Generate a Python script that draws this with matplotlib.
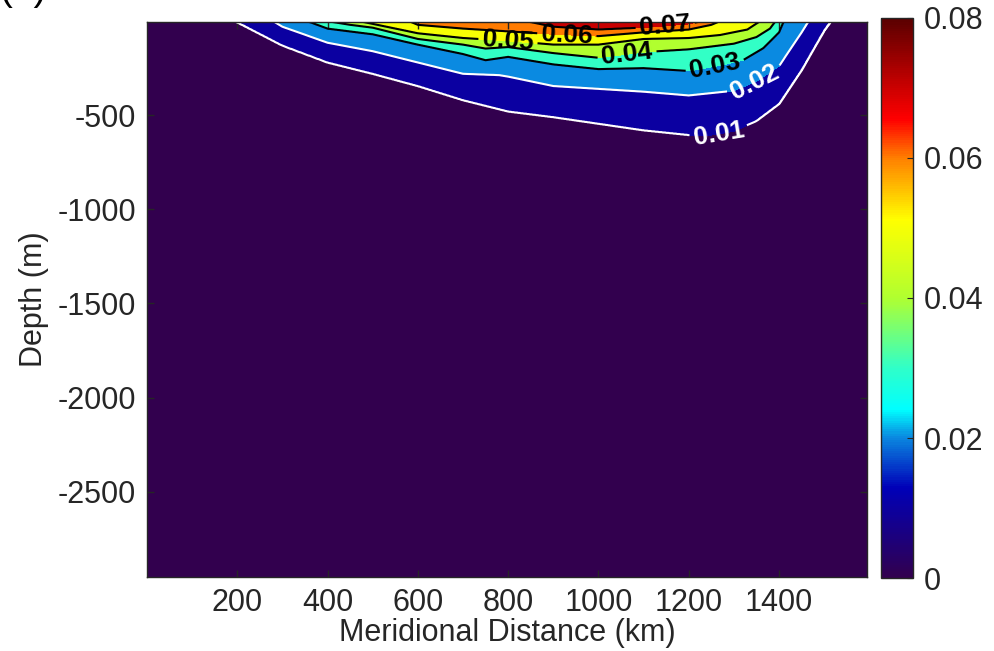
"""Meridional section of a tracer concentration, filled contours with labels."""

import numpy as np
import matplotlib

matplotlib.use("Agg")
from matplotlib import pyplot as plt
from matplotlib.cm import ScalarMappable
from matplotlib.colors import LinearSegmentedColormap, Normalize

# contour traces: distance (km) and depth below surface (m)
c01_x = [195, 300, 400, 500, 600, 700, 800, 900, 1000, 1100, 1200, 1250, 1300, 1350, 1400, 1450, 1500, 1515]
c01_depth = [0, 130, 220, 280, 345, 420, 480, 510, 545, 580, 605, 605, 585, 530, 440, 260, 50, 0]
c02_x = [280, 300, 400, 500, 600, 700, 780, 800, 900, 1000, 1100, 1200, 1300, 1350, 1400, 1450, 1465]
c02_depth = [0, 30, 115, 160, 220, 280, 287, 295, 345, 360, 375, 395, 370, 320, 240, 60, 0]
c03_x = [355, 400, 500, 600, 700, 750, 800, 900, 1000, 1100, 1200, 1270, 1320, 1365, 1400, 1410]
c03_depth = [0, 40, 70, 125, 175, 208, 190, 230, 255, 250, 265, 235, 208, 144, 60, 0]
c04_x = [400, 450, 500, 600, 700, 750, 800, 900, 1000, 1100, 1200, 1300, 1350, 1380, 1392]
c04_depth = [0, 20, 35, 95, 125, 146, 138, 170, 195, 165, 150, 120, 85, 40, 0]
c05_x = [470, 500, 600, 700, 800, 900, 1000, 1100, 1200, 1270, 1330, 1358]
c05_depth = [0, 15, 65, 90, 105, 125, 125, 95, 90, 74, 45, 0]
c06_x = [580, 600, 700, 800, 900, 1000, 1100, 1200, 1250, 1270]
c06_depth = [0, 20, 40, 55, 70, 80, 60, 45, 20, 0]
c07_x = [840, 900, 1000, 1100, 1200, 1230]
c07_depth = [0, 30, 45, 35, 15, 0]

line_levels = [0.01, 0.02, 0.03, 0.04, 0.05, 0.06, 0.07]
traces = [
    (c01_x, c01_depth),
    (c02_x, c02_depth),
    (c03_x, c03_depth),
    (c04_x, c04_depth),
    (c05_x, c05_depth),
    (c06_x, c06_depth),
    (c07_x, c07_depth),
]
fill_levels = [0.0] + line_levels + [0.08]

# where the contour labels sit (km, m)
label_spots = [(1265, -585), (1347, -325), (1258, -240), (1063, -170), (800, -90), (930, -75), (1148, -25)]

xticks = [200, 400, 600, 800, 1000, 1200, 1400]
yticks = [-2500, -2000, -1500, -1000, -500]
cbar_ticks = [0.0, 0.02, 0.04, 0.06, 0.08]

# jet-like map that starts from a dark purple
cmap = LinearSegmentedColormap.from_list(
    "tracer",
    [
        (0.00, "#32004e"),
        (0.16, "#0000b8"),
        (0.25, "#0a88e0"),
        (0.30, "#00ffff"),
        (0.375, "#30ffc8"),
        (0.50, "#b0ff30"),
        (0.64, "#ffff00"),
        (0.75, "#ff8000"),
        (0.82, "#ff0000"),
        (1.00, "#5a0000"),
    ],
)
norm = Normalize(0.0, 0.08)

# build the gridded field column by column from the traced contours
x_grid = np.linspace(0, 1600, 801)
z_grid = np.linspace(0, 2960, 1481)
field = np.zeros((z_grid.size, x_grid.size))
for j, x in enumerate(x_grid):
    depths, values = [], []
    for level, (tx, td) in zip(line_levels, traces):
        if tx[0] <= x <= tx[-1]:
            depths.append(np.interp(x, tx, td))
            values.append(level)
    surface = values[-1] + 0.006 if values else 0.004
    prof_d = [-1.0] + depths[::-1] + [3000.0]
    prof_v = [surface] + values[::-1] + [0.0]
    field[:, j] = np.interp(z_grid, prof_d, prof_v)

plt.rcParams["font.family"] = ["Liberation Sans", "DejaVu Sans"]
plt.rcParams["axes.unicode_minus"] = False
text_color = "#262626"

figure = plt.figure(figsize=(9.95, 6.51), dpi=100)
axis = figure.add_axes([0.1477, 0.1137, 0.7237, 0.8525])

band_colors = [cmap(norm(level)) for level in fill_levels[:-1]]
axis.contourf(x_grid, -z_grid, field, levels=fill_levels, colors=band_colors)
line_colors = ["white", "white"] + ["black"] * 5
lines = axis.contour(x_grid, -z_grid, field, levels=line_levels, colors=line_colors, linewidths=1.5)
labels = axis.clabel(lines, fmt="%.2f", fontsize=19, inline=True, inline_spacing=4, manual=label_spots)
for label in labels:
    label.set_fontweight("bold")
    label.set_clip_on(False)

axis.set_xlim(0, 1595)
axis.set_ylim(-2953, -5)
axis.set_xticks(xticks)
axis.set_yticks(yticks)
axis.tick_params(direction="in", length=5, width=1, top=True, right=True,
                 labelsize=22, colors=text_color, pad=8)
axis.set_xlabel("Meridional Distance (km)", fontsize=22, color=text_color, labelpad=0)
axis.set_ylabel("Depth (m)", fontsize=22, color=text_color, labelpad=6)
for spine in axis.spines.values():
    spine.set_color(text_color)
    spine.set_linewidth(1.0)

cax = figure.add_axes([0.8854, 0.1121, 0.0322, 0.8603])
colorbar = figure.colorbar(ScalarMappable(norm=norm, cmap=cmap), cax=cax, ticks=cbar_ticks)
colorbar.ax.set_yticklabels(["0" if t == 0 else f"{t:.2f}" for t in cbar_ticks])
colorbar.ax.tick_params(direction="in", length=4, labelsize=22, colors=text_color, pad=8)
colorbar.outline.set_edgecolor(text_color)
colorbar.outline.set_linewidth(1.0)

# panel tag, mostly above the top edge as in the source figure
figure.text(0.0, 1.0, "(b)", fontsize=28, color="black", va="baseline")

figure.savefig("out.png", dpi=100)
